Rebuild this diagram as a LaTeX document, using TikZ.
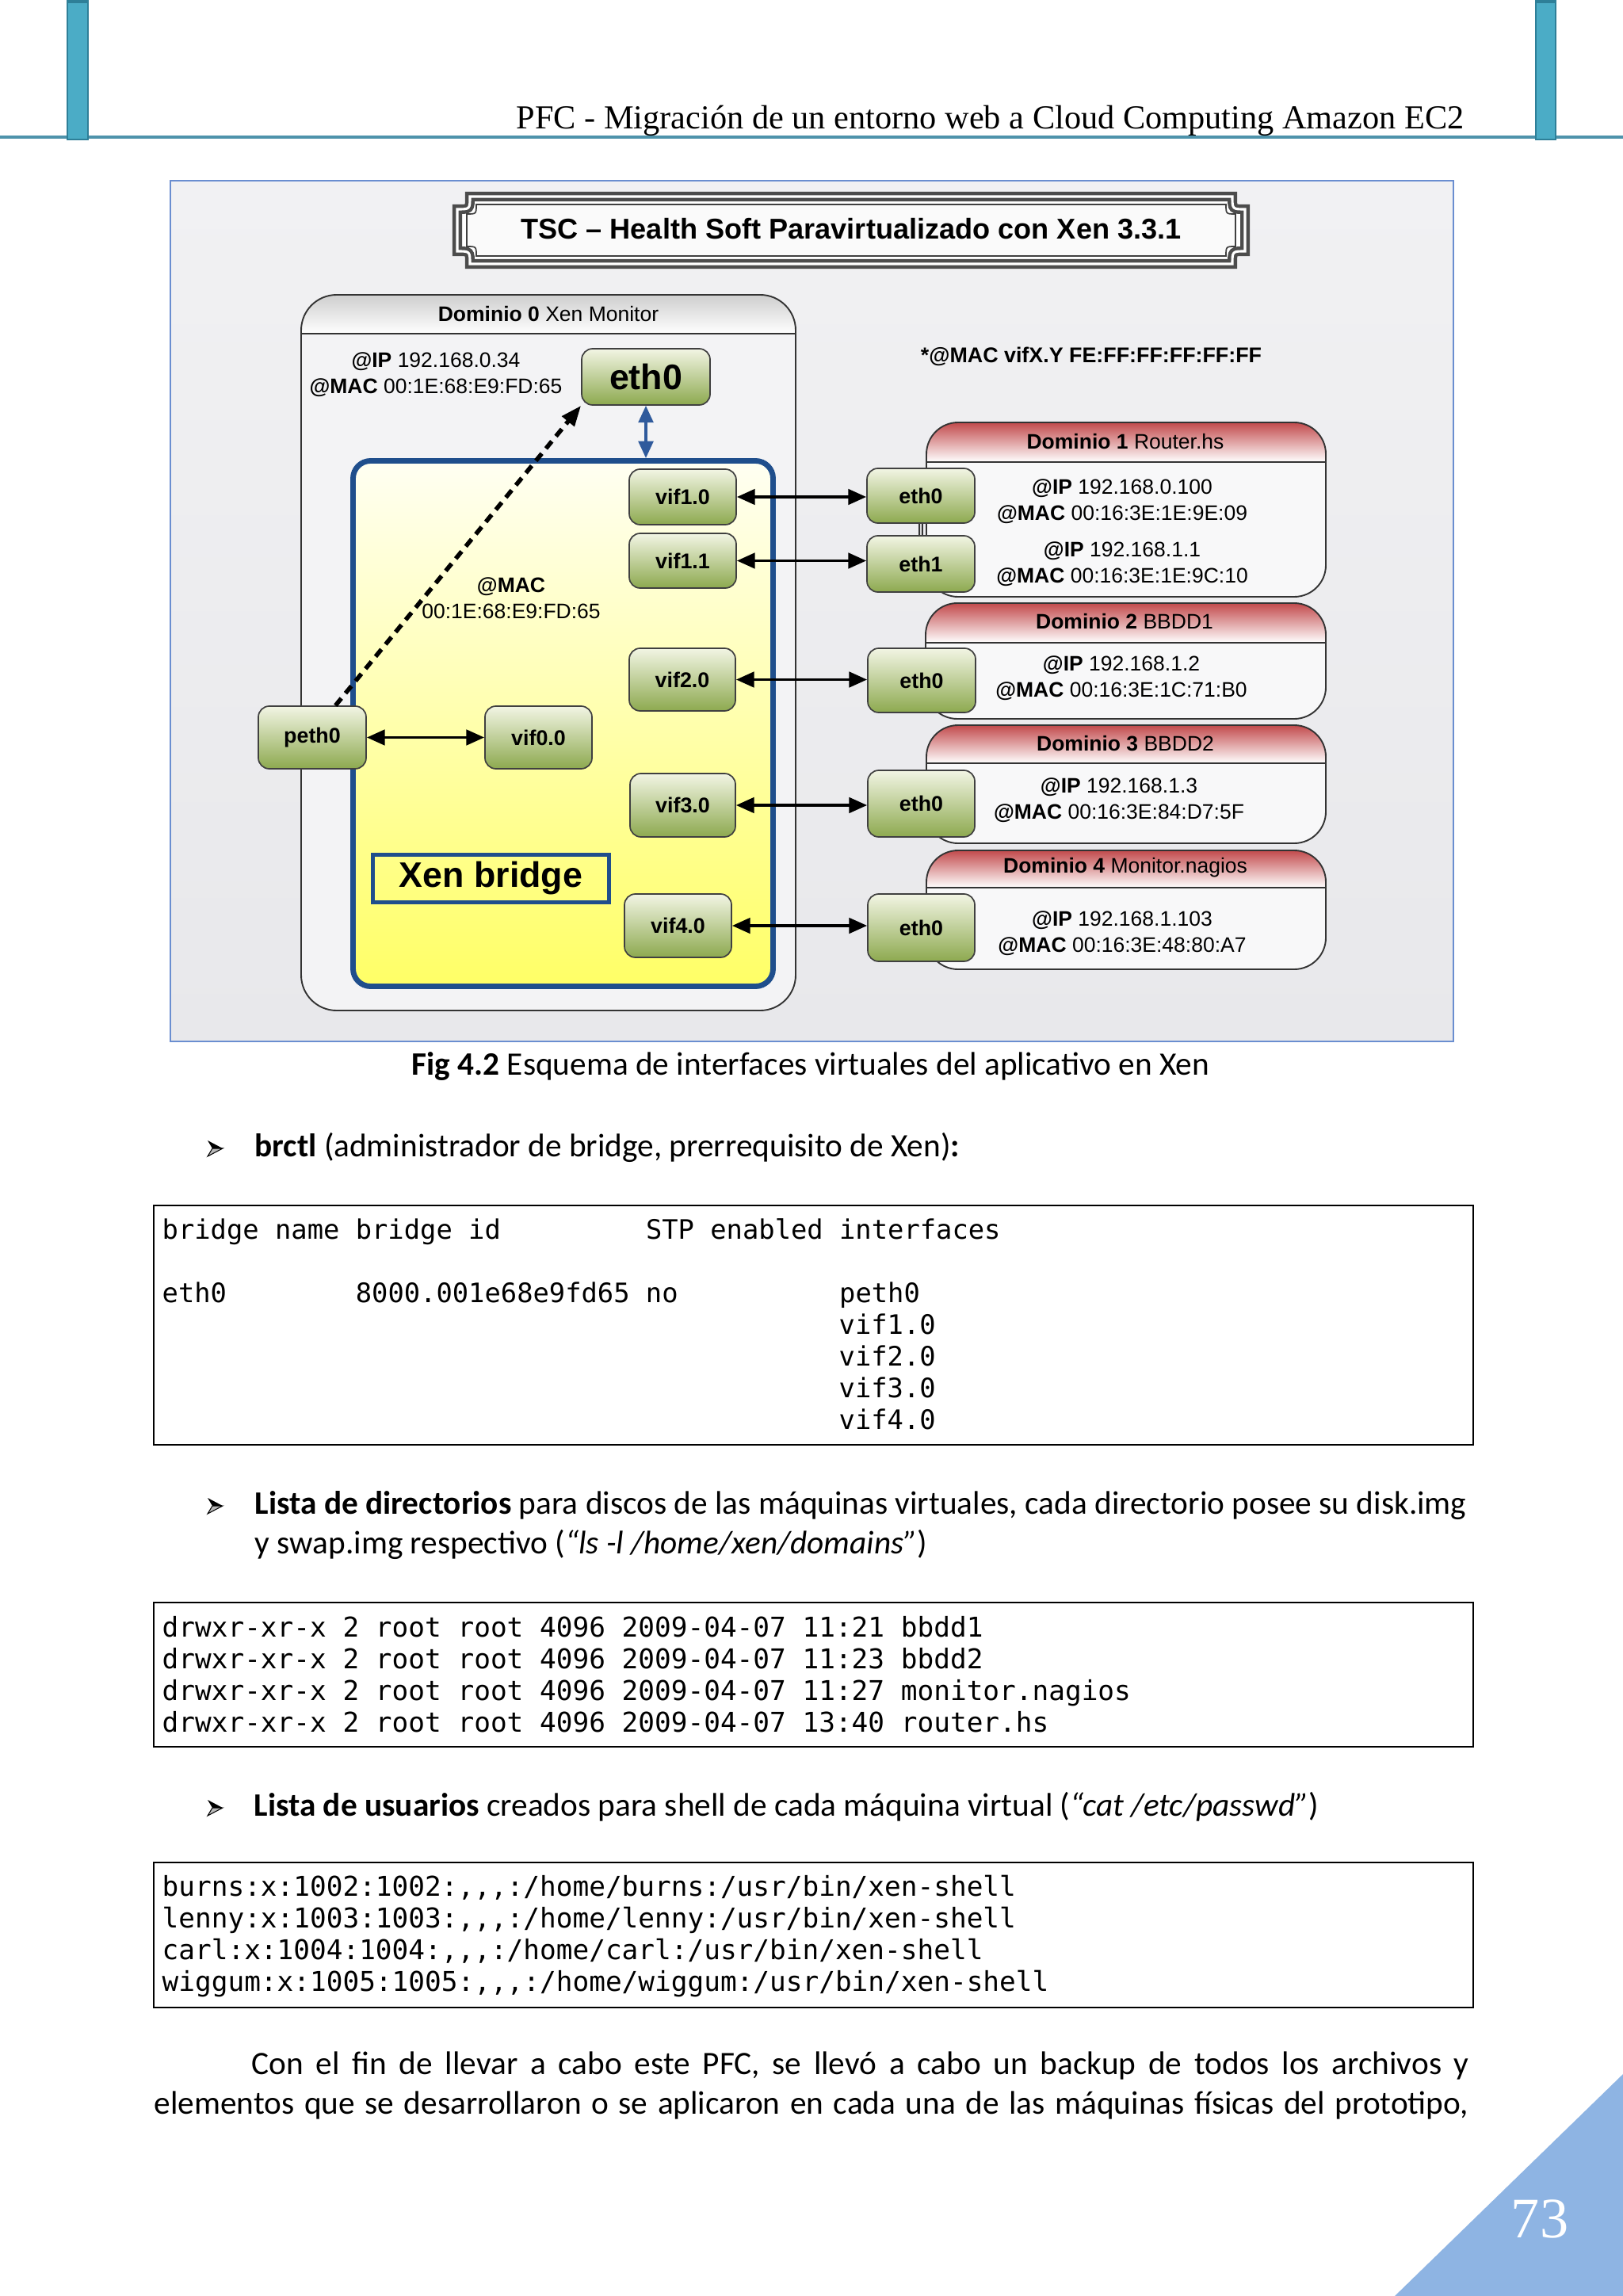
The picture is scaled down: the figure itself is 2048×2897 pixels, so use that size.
\documentclass[tikz,border=0pt]{standalone}
\usepackage{fontspec}
\setmainfont{Carlito}
\setmonofont{DejaVu Sans Mono}
\newfontfamily\arial{Liberation Sans}
\newfontfamily\hdrfont{Liberation Serif}
\usetikzlibrary{arrows.meta,calc}
\definecolor{gtop}{HTML}{F2F5E4}
\definecolor{gbot}{HTML}{8DA94F}
\definecolor{bridgeblue}{HTML}{1F4E8C}
\definecolor{ytop}{HTML}{FFFFF2}
\definecolor{ybot}{HTML}{FFFF66}
\definecolor{redtop}{HTML}{C24A4C}
\definecolor{frameblue}{HTML}{6A8ED0}
\definecolor{bgtop}{HTML}{F1F1F3}
\definecolor{bgbot}{HTML}{E8E8EB}
\definecolor{barblue}{HTML}{4BACC6}
\definecolor{bardark}{HTML}{2E7F98}
\definecolor{hline}{HTML}{4E93AB}
\definecolor{triblue}{HTML}{8EB4E3}
\definecolor{arrowblue}{HTML}{2F5A9C}
\definecolor{bodywhite}{HTML}{F8F8F9}
\definecolor{dzerobody}{HTML}{F3F3F5}
\def\pu{0.2906pt}
\newcommand\domainbox[7]{%
  \begin{scope}
    \clip[rounded corners=#7] (#1,#2) rectangle (#3,#4);
    \shade[top color=#6, bottom color=white] (#1,#2) rectangle (#3,#5);
    \fill[bodywhite] (#1,#5) rectangle (#3,#4);
  \end{scope}
  \draw[domline, rounded corners=#7] (#1,#2) rectangle (#3,#4);
  \draw[domline] (#1,#5) -- (#3,#5);
}
\tikzset{
  gbox/.style={draw=black!75, line width=0.5pt, rounded corners=4pt,
    top color=gtop, bottom color=gbot,
    font=\arial\bfseries\fontsize{7.8}{9}\selectfont, inner sep=0pt},
  gsz/.style 2 args={minimum width=#1*\pu, minimum height=#2*\pu},
  dtext/.style={font=\arial\fontsize{7.7}{9.6}\selectfont, align=center, inner sep=0pt},
  domline/.style={draw=black!80, line width=0.55pt},
  barrow/.style={line width=1.1pt, draw=black, {Triangle[length=6.6pt,width=5.6pt]}-{Triangle[length=6.6pt,width=5.6pt]}},
  bluearrow/.style={line width=1.1pt, draw=arrowblue, {Triangle[length=6.2pt,width=5.4pt]}-{Triangle[length=6.2pt,width=5.4pt]}},
  dasharrow/.style={line width=1.6pt, dash pattern=on 3.4pt off 2.4pt, -{Triangle[length=7.5pt,width=5.6pt]}},
  bodytext/.style={font=\fontsize{12}{14.5}\selectfont, inner sep=0pt, anchor=base west},
  code/.style={font=\ttfamily\fontsize{10}{11.6}\selectfont, inner sep=0pt, anchor=base west},
  codeA/.style={font=\ttfamily\fontsize{9.82}{11.6}\selectfont, inner sep=0pt, anchor=base west},
  codebox/.style={draw=black, line width=0.6pt},
}
\begin{document}
\begin{tikzpicture}[x=0.2906pt, y=-0.2906pt]
\useasboundingbox (0,0) rectangle (2048,2897);
\fill[white] (0,0) rectangle (2048,2897);

% ---------- page header ----------
\fill[hline] (0,171) rectangle (2048,175);
\draw[bardark, line width=0.4pt, fill=barblue] (85,-2) rectangle (111,176);
\draw[bardark, line width=0.4pt, fill=barblue] (1938,-2) rectangle (1963,176);
\fill[bardark] (85,0) rectangle (111,4);
\fill[bardark] (1938,0) rectangle (1963,4);
\node[anchor=base east, inner sep=0pt, font=\hdrfont\fontsize{12.3}{15}\selectfont] (hdr) at (1848,163)
  {PFC - Migración de un entorno web a Cloud Computing Amazon EC2};

% ---------- diagram frame ----------
\shade[top color=bgtop, bottom color=bgbot] (215,228) rectangle (1834,1314);
\draw[frameblue, line width=0.8pt] (215,228) rectangle (1834,1314);

% title plaque
\draw[black!70, line width=1.3pt, double=white, double distance=0.9pt, fill=white]
  (593,248) -- (1555,248) .. controls (1555,264) .. (1571,264) -- (1571,317)
  .. controls (1555,317) .. (1555,333) -- (593,333) .. controls (593,317) .. (577,317)
  -- (577,264) .. controls (593,264) .. (593,248) -- cycle;
\draw[black!75, line width=0.5pt, fill=white!96!gray]
  (601,258) -- (1547,258) .. controls (1547,270) .. (1559,270) -- (1559,311)
  .. controls (1547,311) .. (1547,323) -- (601,323) .. controls (601,311) .. (589,311)
  -- (589,270) .. controls (601,270) .. (601,258) -- cycle;
\node[font=\arial\bfseries\fontsize{10.5}{12}\selectfont, inner sep=0pt] (title) at (1074,289)
  {TSC – Health Soft Paravirtualizado con Xen 3.3.1};

% ---------- domain boxes ----------
\begin{scope}
  \clip[rounded corners=13pt] (380,372) rectangle (1004,1275);
  \shade[top color=gray!38, bottom color=white] (380,372) rectangle (1004,421);
  \fill[dzerobody] (380,421) rectangle (1004,1275);
\end{scope}
\draw[domline, rounded corners=13pt] (380,372) rectangle (1004,1275);
\draw[domline] (380,421) -- (1004,421);

\domainbox{1169}{533}{1673}{753}{583}{redtop}{11.6pt}
\domainbox{1168}{761}{1673}{907}{811}{redtop}{11.6pt}
\domainbox{1169}{915}{1673}{1064}{963}{redtop}{11.6pt}
\domainbox{1169}{1073}{1673}{1223}{1120}{redtop}{11.6pt}

% ---------- bridge ----------
\node[draw=bridgeblue, line width=2pt, rounded corners=6.4pt, top color=ytop, bottom color=ybot,
  gsz={530}{663}] (bridge) at (710.5,913) {};
\node[draw=bridgeblue, line width=1.45pt, gsz={298}{60}, inner sep=0pt,
  font=\arial\bfseries\fontsize{13}{15}\selectfont] (xenbr) at (619.5,1108.5) {Xen bridge};

% ---------- interface nodes ----------
\node[gbox, gsz={162}{71}, font=\arial\bfseries\fontsize{13}{15}\selectfont] (eth0top) at (815,475.5) {eth0};
\node[gbox, gsz={135}{70}] (vif10) at (861.5,627) {vif1.0};
\node[gbox, gsz={135}{69}] (vif11) at (861.5,707.5) {vif1.1};
\node[gbox, gsz={134}{79}] (vif20) at (861,857.5) {vif2.0};
\node[gbox, gsz={135}{79}] (vif00) at (679.5,930.5) {vif0.0};
\node[gbox, gsz={133}{80}] (vif30) at (861.5,1016) {vif3.0};
\node[gbox, gsz={135}{80}] (vif40) at (855.5,1168) {vif4.0};
\node[gbox, gsz={136}{79}] (peth0) at (394,930.5) {peth0};

\node[gbox, gsz={136}{69}] (d1eth0) at (1162,625.5) {eth0};
\node[gbox, gsz={136}{71}] (d1eth1) at (1162,711.5) {eth1};
\node[gbox, gsz={136}{81}] (d2eth0) at (1163,858.5) {eth0};
\node[gbox, gsz={135}{84}] (d3eth0) at (1162.5,1014) {eth0};
\node[gbox, gsz={135}{85}] (d4eth0) at (1162.5,1170.5) {eth0};

% ---------- texts ----------
\node[dtext] (d0h) at (692,396) {\textbf{Dominio 0} Xen Monitor};
\node[dtext] (d0ip) at (550,472.5) {\textbf{@IP} 192.168.0.34\\\textbf{@MAC} 00:1E:68:E9:FD:65};
\node[dtext] (brmac) at (645,755) {\textbf{@MAC}\\00:1E:68:E9:FD:65};
\node[dtext, font=\arial\bfseries\fontsize{7.8}{9.6}\selectfont] (vifmac) at (1377,450) {*@MAC vifX.Y FE:FF:FF:FF:FF:FF};

\node[dtext] (d1h) at (1420,557) {\textbf{Dominio 1} Router.hs};
\node[dtext] (d1a) at (1416,632.5) {\textbf{@IP} 192.168.0.100\\\textbf{@MAC} 00:16:3E:1E:9E:09};
\node[dtext] (d1b) at (1416,711.5) {\textbf{@IP} 192.168.1.1\\\textbf{@MAC} 00:16:3E:1E:9C:10};
\node[dtext] (d2h) at (1419,784) {\textbf{Dominio 2} BBDD1};
\node[dtext] (d2a) at (1415,855.5) {\textbf{@IP} 192.168.1.2\\\textbf{@MAC} 00:16:3E:1C:71:B0};
\node[dtext] (d3h) at (1420,938) {\textbf{Dominio 3} BBDD2};
\node[dtext] (d3a) at (1412,1010) {\textbf{@IP} 192.168.1.3\\\textbf{@MAC} 00:16:3E:84:D7:5F};
\node[dtext] (d4h) at (1420,1095) {\textbf{Dominio 4} Monitor.nagios};
\node[dtext] (d4a) at (1416,1177.5) {\textbf{@IP} 192.168.1.103\\\textbf{@MAC} 00:16:3E:48:80:A7};

% ---------- connectors ----------
\draw[bluearrow] (eth0top.south) -- (eth0top.south |- bridge.north);
\draw[dasharrow] (peth0.54) -- (eth0top.south west);
\draw[barrow] (peth0.east) -- (vif00.west);
\draw[barrow] (vif10.east) -- (vif10.east -| d1eth0.west);
\draw[barrow] (vif11.east) -- (vif11.east -| d1eth1.west);
\draw[barrow] (vif20.east) -- (vif20.east -| d2eth0.west);
\draw[barrow] (vif30.east) -- (vif30.east -| d3eth0.west);
\draw[barrow] (vif40.east) -- (vif40.east -| d4eth0.west);
\draw[black!80, line width=0.35pt, double=gray!30, double distance=0.8pt] (d1eth0.south) -- (d1eth1.north);

% ---------- page body ----------
\node[bodytext, anchor=base] (cap) at (1023,1356) {\textbf{Fig 4.2} Esquema de interfaces virtuales del aplicativo en Xen};

% bullets
\foreach \by in {1459,1910,2291}{
  \fill[black] (262,\by-20) -- (281,\by-10) -- (268,\by-10) -- cycle;
  \filldraw[fill=gray!55, draw=black, line width=0.3pt] (268,\by-10) -- (281,\by-10) -- (262,\by) -- cycle;
}
\node[bodytext] (b1) at (321,1459) {\textbf{brctl} (administrador de bridge, prerrequisito de Xen)\textbf{:}};
\node[bodytext] (b2a) at (321,1910) {\makebox[444.3pt][s]{\textbf{Lista de directorios} para discos de las máquinas virtuales, cada directorio posee su disk.img}};
\node[bodytext] (b2b) at (321,1960) {y swap.img respectivo (\textit{“ls -l /home/xen/domains”})};
\node[bodytext] (b3) at (320,2291) {\textbf{Lista de usuarios} creados para shell de cada máquina virtual (\textit{“cat /etc/passwd”})};
\node[bodytext] (p1) at (317,2617) {\makebox[446.4pt][s]{Con el fin de llevar a cabo este PFC, se llevó a cabo un backup de todos los archivos y}};
\node[bodytext] (p2) at (194,2667) {\makebox[482pt][s]{elementos que se desarrollaron o se aplicaron en cada una de las máquinas físicas del prototipo,}};

% code box 1
\draw[codebox] (194,1521) rectangle (1859,1823);
\node[codeA] (c1a) at (204,1563) {bridge~name~bridge~id~~~~~~~~~STP~enabled~interfaces};
\node[codeA] (c1b) at (204,1643) {eth0~~~~~~~~8000.001e68e9fd65~no~~~~~~~~~~peth0};
\node[codeA] (c1c) at (1058,1683) {vif1.0};
\node[codeA] (c1d) at (1058,1723) {vif2.0};
\node[codeA] (c1e) at (1058,1763) {vif3.0};
\node[codeA] (c1f) at (1058,1803) {vif4.0};

% code box 2
\draw[codebox] (194,2022) rectangle (1859,2204);
\node[code] (c2a) at (204,2065) {drwxr-xr-x 2 root root 4096 2009-04-07 11:21 bbdd1};
\node[code] (c2b) at (204,2105) {drwxr-xr-x 2 root root 4096 2009-04-07 11:23 bbdd2};
\node[code] (c2c) at (204,2145) {drwxr-xr-x 2 root root 4096 2009-04-07 11:27 monitor.nagios};
\node[code] (c2d) at (204,2185) {drwxr-xr-x 2 root root 4096 2009-04-07 13:40 router.hs};

% code box 3
\draw[codebox] (194,2350) rectangle (1859,2533);
\node[code] (c3a) at (204,2392) {burns:x:1002:1002:,,,:/home/burns:/usr/bin/xen-shell};
\node[code] (c3b) at (204,2432) {lenny:x:1003:1003:,,,:/home/lenny:/usr/bin/xen-shell};
\node[code] (c3c) at (204,2472) {carl:x:1004:1004:,,,:/home/carl:/usr/bin/xen-shell};
\node[code] (c3d) at (204,2512) {wiggum:x:1005:1005:,,,:/home/wiggum:/usr/bin/xen-shell};

% page corner
\fill[triblue] (2048,2617) -- (2048,2897) -- (1760,2897) -- cycle;
\node[anchor=base, inner sep=0pt, text=white, font=\hdrfont\fontsize{21}{24}\selectfont] (pnum) at (1943,2823) {73};
\end{tikzpicture}
\end{document}
